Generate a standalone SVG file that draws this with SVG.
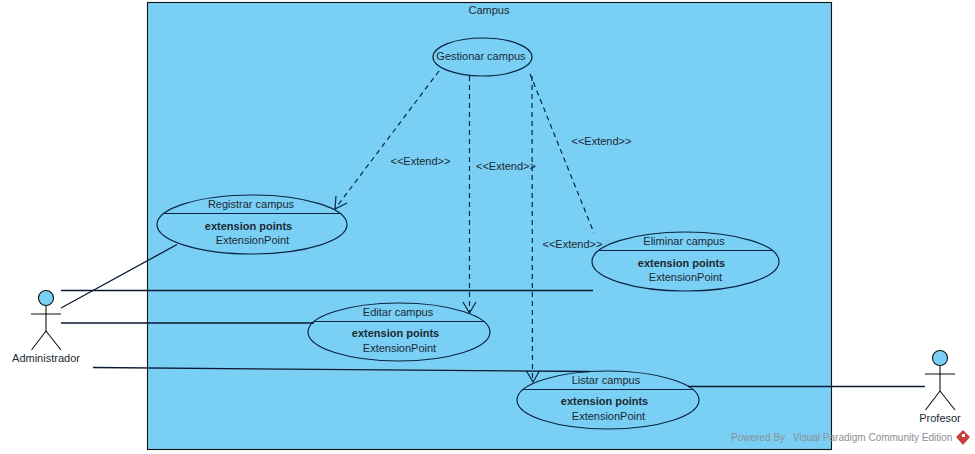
<svg xmlns="http://www.w3.org/2000/svg" width="975" height="454" viewBox="0 0 975 454">
<style>
text{font-family:"Liberation Sans",Arial,sans-serif;font-size:11px;fill:#1a2a33;text-anchor:middle}
.uc{fill:#7acff5;stroke:#0a2540;stroke-width:1.2}
.sep{stroke:#0a2540;stroke-width:1.2;fill:none}
.b{font-weight:bold}
.assoc{stroke:#0a1a30;stroke-width:1.3;fill:none}
.dash{stroke:#0a2540;stroke-width:1.2;fill:none;stroke-dasharray:5 4}
.head{stroke:#0a2540;stroke-width:1.2;fill:none}
.act{stroke:#111;stroke-width:1.1;fill:none}
.hd{fill:#7acff5;stroke:#111;stroke-width:1.1}
.wm{fill:#8a8f94;text-anchor:start;font-size:10px}
</style>
<rect width="975" height="454" fill="#fff"/>
<g id="campus">
<rect x="147.500" y="2.500" width="684" height="447" fill="#7acff5" stroke="#111" stroke-width="1.1"/>
<text x="489" y="14">Campus</text>
</g>
<g id="gestionar"><ellipse class="uc" cx="482.500" cy="57" rx="49.500" ry="19"/><text x="481" y="60">Gestionar campus</text></g>
<g id="registrar"><ellipse class="uc" cx="252" cy="224.500" rx="95" ry="29.500"/><path class="sep" d="M164 213.500H340"/><text x="251" y="208">Registrar campus</text><text class="b" x="248.500" y="229.500">extension points</text><text x="252.500" y="244">ExtensionPoint</text></g>
<g id="editar"><ellipse class="uc" cx="399" cy="332" rx="91" ry="29"/><path class="sep" d="M314 321.500H484"/><text x="398" y="316">Editar campus</text><text class="b" x="395.500" y="337">extension points</text><text x="399.500" y="352">ExtensionPoint</text></g>
<g id="eliminar"><ellipse class="uc" cx="685.500" cy="261.500" rx="93.500" ry="29.500"/><path class="sep" d="M599 250.500H772"/><text x="684" y="245">Eliminar campus</text><text class="b" x="681.500" y="266.500">extension points</text><text x="685.500" y="281">ExtensionPoint</text></g>
<g id="listar"><ellipse class="uc" cx="608" cy="400" rx="91" ry="29"/><path class="sep" d="M523 389.500H693"/><text x="606" y="384">Listar campus</text><text class="b" x="604.500" y="405">extension points</text><text x="608.500" y="420">ExtensionPoint</text></g>
<g id="connectors">
<path class="assoc" d="M61 308L177 244.500"/>
<path class="assoc" d="M61 290.500H593"/>
<path class="assoc" d="M61 323H314"/>
<path class="assoc" d="M93 367.500L590 371.500"/>
<path class="assoc" d="M688 386.500H925"/>
<path class="dash" d="M439 71L335 209"/><path class="head" d="M336 196L335 209L347 203"/>
<path class="dash" d="M469.500 76V312"/><path class="head" d="M463 302L469.500 313L476 302"/>
<path class="dash" d="M532 76L532.500 382"/><path class="head" d="M526.500 371L533 382L539.500 371"/>
<path class="dash" d="M530 74L594 233"/>
<text x="420.500" y="165">&lt;&lt;Extend&gt;&gt;</text>
<text x="506" y="170">&lt;&lt;Extend&gt;&gt;</text>
<text x="601.500" y="145">&lt;&lt;Extend&gt;&gt;</text>
<text x="572.500" y="248">&lt;&lt;Extend&gt;&gt;</text>
</g>
<g id="administrador"><circle class="hd" cx="46" cy="298" r="7.500"/><path class="act" d="M46 306V331M31 314H61M46 331L31.500 350M46 331L61 350"/><text x="46" y="362">Administrador</text></g>
<g id="profesor"><circle class="hd" cx="940" cy="358" r="7.500"/><path class="act" d="M940 366V391M925 374H955M940 391L925.500 410M940 391L955 410"/><text x="940" y="422">Profesor</text></g>
<g id="watermark"><text class="wm" x="731" y="441">Powered By</text><text class="wm" x="793" y="441">Visual Paradigm Community Edition</text><path d="M963 430L970 437L963 445L956 437Z" fill="#c8403a"/><path d="M962 434h3v3h-3z" fill="#fff"/></g>
</svg>
